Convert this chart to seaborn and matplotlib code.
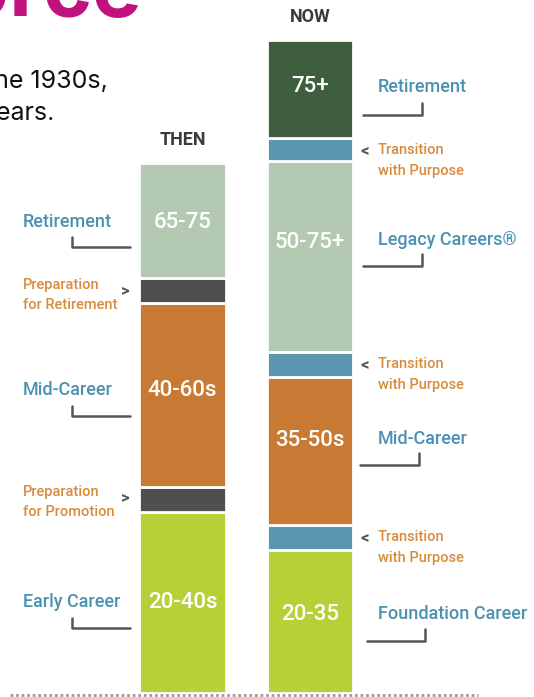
import numpy as np
import pandas as pd
import matplotlib
matplotlib.use("Agg")
import matplotlib.pyplot as plt
import seaborn as sns

# data: stacked life stages, span of each block in chart units
ERAS = ["THEN", "NOW"]

then_stages = ["Early Career", "Preparation for Promotion", "Mid-Career",
               "Preparation for Retirement", "Retirement"]
then_span = [181, 25, 184, 25, 115]
then_ages = ["20-40s", "", "40-60s", "", "65-75"]

now_stages = ["Foundation Career", "Transition with Purpose", "Mid-Career",
              "Transition with Purpose", "Legacy Careers®",
              "Transition with Purpose", "Retirement"]
now_span = [143, 25, 148, 25, 191, 23, 98]
now_ages = ["20-35", "", "35-50s", "", "50-75+", "", "75+"]

then_colors = ["#b5d137", "#4f4f4f", "#c87a34", "#4f4f4f", "#b3c9b1"]
now_colors = ["#b5d137", "#5b97b0", "#c87a34", "#5b97b0", "#b3c9b1",
              "#5b97b0", "#3e5e3f"]

TEAL = "#4b91b1"
ORANGE = "#d98b3c"
GREY = "#555555"

sns.set_style("white")
plt.rcParams['font.family'] = ['Roboto', 'DejaVu Sans']

W, H = 534, 697
fig = plt.figure(figsize=(W / 100, H / 100), dpi=100)
ax = fig.add_axes([0, 0, 1, 1])

# pixel helpers for annotations (x centre of THEN bar = 182.5px, 127.5px per category)
BASE = 693
def fx(px):
    return (px - 182.5) / 127.5
def fy(px):
    return BASE - px

rows = []
for era, stages, spans, cols in [("THEN", then_stages, then_span, then_colors),
                                 ("NOW", now_stages, now_span, now_colors)]:
    bottoms = np.concatenate([[0], np.cumsum(spans)[:-1]])
    for s, h, b, c in zip(stages, spans, bottoms, cols):
        rows.append(dict(era=era, stage=s, span=h, bottom=b, color=c))
df = pd.DataFrame(rows)

for _, r in df.iterrows():
    sns.barplot(x=[r["era"]], y=[r["span"]], order=ERAS, bottom=r["bottom"],
                color=r["color"], saturation=1, width=0.678, errorbar=None,
                edgecolor="white", linewidth=2, ax=ax)

ax.set_xlim(fx(0), fx(W))
ax.set_ylim(fy(H), fy(0))
ax.set_axis_off()

# dotted baseline
ax.axhline(fy(694.5), xmin=10 / W, xmax=478 / W, color="#9c9c9c", lw=2,
           ls=(0, (1, 1)), zorder=5)

# headers
ax.text(0, fy(140), "THEN", ha="center", va="center", fontsize=13,
        fontweight="bold", color="#3a3a3a")
ax.text(1, fy(17), "NOW", ha="center", va="center", fontsize=13,
        fontweight="bold", color="#3a3a3a")

# age labels inside bars
for txt, y in zip(["20-40s", "40-60s", "65-75"], [602, 390, 222]):
    ax.text(0, fy(y), txt, ha="center", va="center", fontsize=16,
            color="white", fontweight="medium")
for txt, y in zip(["20-35", "35-50s", "50-75+", "75+"], [614, 441, 243, 86]):
    ax.text(1, fy(y), txt, ha="center", va="center", fontsize=16,
            color="white", fontweight="medium")

# left side labels
for txt, y, yb in [("Retirement", 222, 247), ("Mid-Career", 390, 416),
                   ("Early Career", 602, 628)]:
    ax.text(fx(23), fy(y), txt, ha="left", va="center", fontsize=13,
            color=TEAL, fontweight="medium")
    ax.plot([fx(72), fx(72), fx(130)], [fy(yb - 10), fy(yb), fy(yb)],
            color=GREY, lw=1.8)

for l1, l2, y in [("Preparation", "for Retirement", 285),
                  ("Preparation", "for Promotion", 492)]:
    ax.text(fx(23), fy(y), l1, ha="left", va="center", fontsize=10.5,
            color=ORANGE, fontweight="medium")
    ax.text(fx(23), fy(y + 20), l2, ha="left", va="center", fontsize=10.5,
            color=ORANGE, fontweight="medium")
    ax.text(fx(125), fy(y + 6), ">", ha="center", va="center", fontsize=12,
            color=GREY, fontweight="bold")

# right side labels
for txt, y, x1, x2, yb in [("Retirement", 87, 363, 422, 115),
                           ("Legacy Careers®", 240, 363, 422, 266),
                           ("Mid-Career", 439, 360, 419, 465),
                           ("Foundation Career", 614, 367, 425, 641)]:
    ax.text(fx(378), fy(y), txt, ha="left", va="center", fontsize=13,
            color=TEAL, fontweight="medium")
    ax.plot([fx(x1), fx(x2), fx(x2)], [fy(yb), fy(yb), fy(yb - 12)],
            color=GREY, lw=1.8)

for y in [150, 364, 537]:
    ax.text(fx(378), fy(y), "Transition", ha="left", va="center",
            fontsize=10.5, color=ORANGE, fontweight="medium")
    ax.text(fx(378), fy(y + 21), "with Purpose", ha="left", va="center",
            fontsize=10.5, color=ORANGE, fontweight="medium")
    ax.text(fx(365), fy(y + 1), "<", ha="center", va="center", fontsize=12,
            color=GREY, fontweight="bold")

# cropped page heading and intro text
fig.text(142 / W, 1 - 16 / H, "Workforce", ha="right", va="baseline",
         fontsize=60, fontweight="bold", color="#c0117e", family=["Inter", "DejaVu Sans"])
fig.text(108 / W, 1 - 88 / H, "the 1930s,", ha="right", va="baseline",
         fontsize=18, color="#111111", family=["Inter", "DejaVu Sans"])
fig.text(55 / W, 1 - 120 / H, "years.", ha="right", va="baseline",
         fontsize=18, color="#111111", family=["Inter", "DejaVu Sans"])

fig.savefig("out.png", dpi=100)
